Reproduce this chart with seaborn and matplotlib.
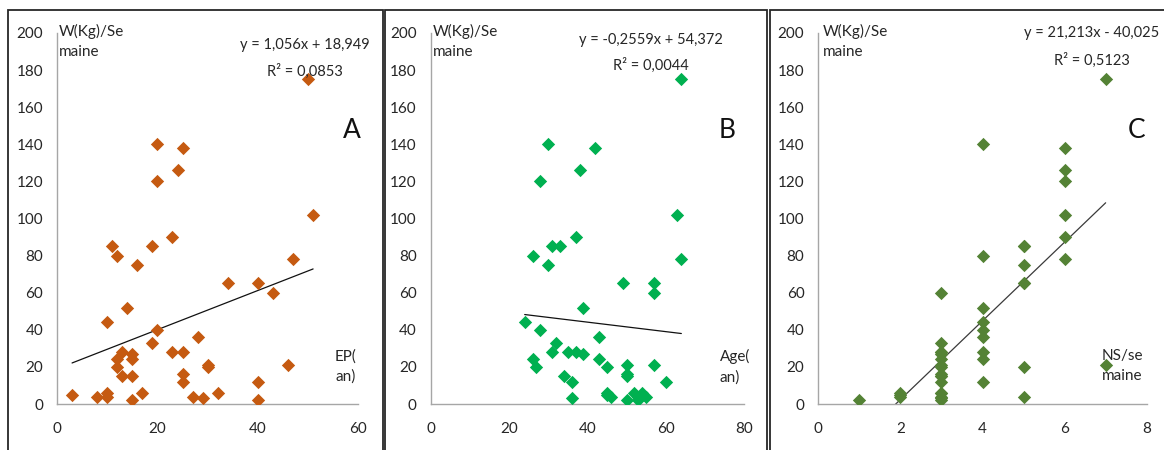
import matplotlib
matplotlib.use('Agg')
import matplotlib.pyplot as plt
from matplotlib.patches import Rectangle
import numpy as np
import pandas as pd
import seaborn as sns

# y = W(Kg)/semaine, one value per individual (same people in all three panels)
ep_an = [3, 8, 10, 10, 10, 11, 12, 12, 12, 13, 13, 14, 15, 15, 15, 15, 16, 17, 19, 19, 20, 20, 20,
         23, 23, 24, 25, 25, 25, 25, 27, 28, 29, 30, 30, 32, 34, 40, 40, 40, 43, 46, 47, 50, 51]
w_a = [5, 4, 6, 4, 44, 85, 80, 24, 20, 28, 15, 52, 27, 24, 15, 2, 75, 6, 85, 33, 40, 140, 120,
       90, 28, 126, 138, 28, 16, 12, 4, 36, 3, 21, 20, 6, 65, 65, 12, 2, 60, 21, 78, 175, 102]

age_an = [24, 26, 26, 27, 28, 28, 30, 30, 31, 31, 32, 33, 34, 35, 36, 36, 37, 37, 39, 39, 38, 42,
          43, 43, 45, 45, 46, 49, 50, 50, 50, 52, 53, 54, 55, 57, 57, 57, 60, 64, 64, 63, 45, 53, 50]
w_b = [44, 80, 24, 20, 40, 120, 75, 140, 85, 28, 33, 85, 15, 28, 12, 3, 90, 28, 52, 27, 126, 138,
       36, 24, 20, 6, 4, 65, 21, 15, 2, 6, 2, 6, 4, 65, 60, 21, 12, 78, 175, 102, 5, 4, 16]

ns_sem = [1, 2, 2, 2, 3, 3, 3, 3, 3, 3, 3, 3, 3, 3, 3, 3, 3, 3, 3, 3, 3,
          4, 4, 4, 4, 4, 4, 4, 4, 4, 5, 5, 5, 5, 5, 5, 5, 6, 6, 6, 6, 6, 6, 7, 7]
w_c = [2, 6, 5, 4, 60, 33, 28, 28, 27, 24, 21, 20, 16, 15, 15, 12, 6, 6, 4, 3, 2,
       140, 80, 52, 44, 40, 36, 28, 24, 12, 85, 85, 75, 65, 65, 20, 4, 138, 126, 120, 102, 90, 78, 175, 21]

# Excel trendlines (from the chart)
slopes = [1.056, -0.2559, 21.213]
intercepts = [18.949, 54.372, -40.025]
equations = ['y = 1,056x + 18,949', 'y = -0,2559x + 54,372', 'y = 21,213x - 40,025']
r2_labels = ['R² = 0,0853', 'R² = 0,0044', 'R² = 0,5123']
letters = ['A', 'B', 'C']
x_titles = ['EP(\nan)', 'Age(\nan)', 'NS/se\nmaine']
x_maxes = [60, 80, 8]
x_steps = [20, 20, 2]
colors = ['#C55A11', '#00B050', '#548235']

sns.set_style('white')
plt.rcParams['font.family'] = ['Lato', 'DejaVu Sans']

W, H = 1164, 450
fig = plt.figure(figsize=(W / 100, H / 100), dpi=100)


def fx(x):
    return x / W


def fy(y):
    return 1 - y / H


# panel frames
for x0, x1 in [(8, 383), (385, 767), (770, 1200)]:
    fig.patches.append(Rectangle((fx(x0), fy(470)), fx(x1 - x0), (470 - 10) / H,
                                 transform=fig.transFigure, fill=False,
                                 edgecolor='#262626', linewidth=1.3))

ax_px = [(57, 358.3), (430.7, 744), (818.3, 1146.7)]
eq_pos = [(305, 45, 71), (651, 40, 65), (1092, 33, 60)]
letter_x = [352, 727, 1137]
ylab_x = [59, 433, 823]
xt_x = [335, 720, 1102]

panels = [(ep_an, w_a), (age_an, w_b), (ns_sem, w_c)]
for i, (xv, yv) in enumerate(panels):
    l, r = ax_px[i]
    ax = fig.add_axes([fx(l), fy(404), fx(r - l), (404 - 33) / H])
    df = pd.DataFrame({'x': xv, 'y': yv})
    sns.scatterplot(data=df, x='x', y='y', marker='D', s=46, color=colors[i],
                    linewidth=0, ax=ax, zorder=3)
    line = pd.DataFrame({'x': [min(xv), max(xv)]})
    line['y'] = slopes[i] * line['x'] + intercepts[i]
    sns.lineplot(data=line, x='x', y='y', color='#3a3a3a' if i == 2 else '#111111',
                 linewidth=0.9, ax=ax, zorder=2)
    ax.set_xlim(0, x_maxes[i])
    ax.set_ylim(0, 200)
    ax.set_xticks(np.arange(0, x_maxes[i] + 0.1, x_steps[i]))
    ax.set_yticks(np.arange(0, 201, 20))
    ax.set_xlabel('')
    ax.set_ylabel('')
    for s in ['top', 'right']:
        ax.spines[s].set_visible(False)
    for s in ['left', 'bottom']:
        ax.spines[s].set_color('#A6A6A6')
        ax.spines[s].set_linewidth(1)
    ax.tick_params(axis='both', colors='#A6A6A6', labelcolor='#262626',
                   labelsize=11, length=4, width=1, direction='out')
    ax.tick_params(axis='x', pad=9)
    ax.tick_params(axis='y', pad=6)
    ax.set_facecolor('none')

    cx, ey, ry = eq_pos[i]
    fig.text(fx(cx), fy(ey), equations[i], ha='center', va='center', fontsize=10.5, color='#262626')
    fig.text(fx(cx), fy(ry), r2_labels[i], ha='center', va='center', fontsize=10.5, color='#262626')
    fig.text(fx(letter_x[i]), fy(131), letters[i], ha='center', va='center', fontsize=19, color='#111111')
    fig.text(fx(ylab_x[i]), fy(24), 'W(Kg)/Se\nmaine', ha='left', va='top', fontsize=11,
             color='#262626', linespacing=1.55)
    fig.text(fx(xt_x[i]), fy(349), x_titles[i], ha='left', va='top', fontsize=11,
             color='#262626', linespacing=1.55)

fig.savefig('out.png', dpi=100, facecolor='white')
